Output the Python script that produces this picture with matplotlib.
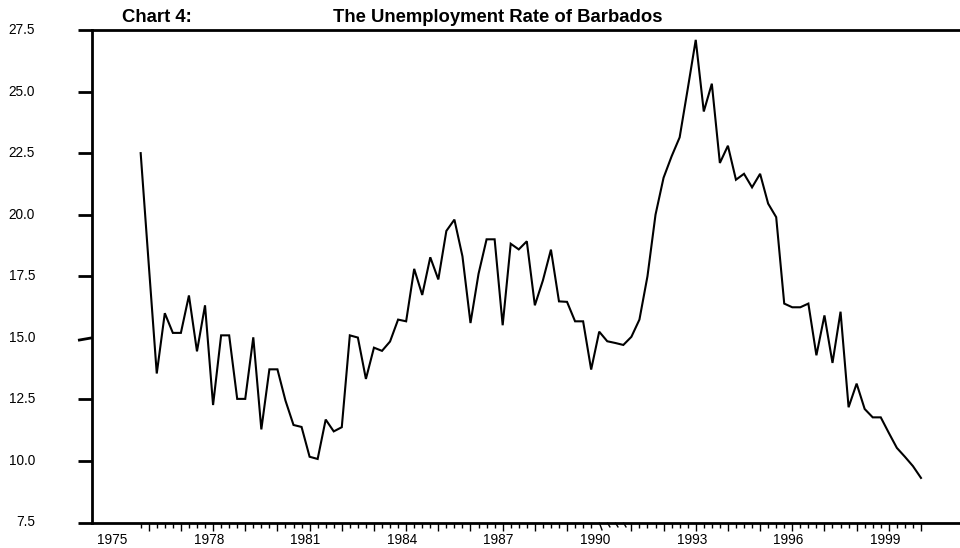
import matplotlib
matplotlib.use("Agg")
import matplotlib.pyplot as plt
from matplotlib.transforms import blended_transform_factory
import numpy as np

plt.rcParams['font.family'] = ['Liberation Sans', 'DejaVu Sans']

# Quarterly unemployment rate (%), first quarter of the series = index 0
rate = [
    22.5, 18.0, 13.55, 16.0, 15.2, 15.2, 16.72, 14.45, 16.32, 12.27,
    15.1, 15.1, 12.52, 12.52, 15.02, 11.28, 13.72, 13.72, 12.45, 11.46,
    11.38, 10.17, 10.08, 11.68, 11.2, 11.37, 15.1, 15.01, 13.33, 14.6,
    14.47, 14.85, 15.74, 15.67, 17.8, 16.74, 18.27, 17.37, 19.34, 19.8,
    18.31, 15.6, 17.6, 19.0, 19.0, 15.51, 18.82, 18.59, 18.92, 16.32,
    17.33, 18.58, 16.48, 16.46, 15.67, 15.67, 13.71, 15.25, 14.86, 14.79,
    14.71, 15.04, 15.74, 17.5, 20.0, 21.5, 22.37, 23.14, 25.1, 27.1,
    24.19, 25.32, 22.1, 22.8, 21.42, 21.66, 21.11, 21.66, 20.45, 19.9,
    16.39, 16.24, 16.24, 16.39, 14.29, 15.91, 13.98, 16.06, 12.18, 13.14,
    12.11, 11.77, 11.77, 11.14, 10.53, 10.17, 9.79, 9.31,
]
year_labels = ["1975", "1978", "1981", "1984", "1987", "1990", "1993", "1996", "1999"]
y_ticks = [7.5, 10.0, 12.5, 15.0, 17.5, 20.0, 22.5, 25.0, 27.5]

W, H = 960, 548
fig = plt.figure(figsize=(W / 100, H / 100), dpi=100)
ax_left, ax_right, ax_top, ax_bot = 92, 960, 30, 522.5
ax = fig.add_axes([ax_left / W, 1 - ax_bot / H, (ax_right - ax_left) / W, (ax_bot - ax_top) / H])

q = np.arange(len(rate))
ax.plot(q, rate, color='black', lw=1.5, solid_joinstyle='miter', clip_on=False)

ax.set_xlim(-6.05, 101.85)
ax.set_ylim(7.5, 27.5)

ax.spines['right'].set_visible(False)
for side in ('left', 'top', 'bottom'):
    ax.spines[side].set_linewidth(2.0)

# y axis: long outward ticks, labels drawn separately (right-aligned)
straight_y = [v for v in y_ticks if v != 15.0]
ax.set_yticks(straight_y)
ax.set_yticklabels([])
ax.tick_params(axis='y', direction='out', length=10, width=2.0)
ylab_tr = blended_transform_factory(fig.transFigure, ax.transData)
for v in y_ticks:
    ax.text(35 / W, v, f"{v:.1f}", transform=ylab_tr, ha='right', va='center',
            fontsize=9.8, color='black')
# the 15.0 tick mark is slightly tilted
yt_tr = blended_transform_factory(ax.transAxes, ax.transData)
axw = ax_right - ax_left
ax.plot([-14 / axw, 0], [15.0 - 0.1, 15.0], transform=yt_tr, color='black',
        lw=2.0, clip_on=False, solid_capstyle='butt')

# x axis: one tick per quarter, longer tick every fourth quarter
tilted = [57, 58, 59, 60]
major = [i for i in range(1, len(rate), 4) if i not in tilted]
minor = [i for i in range(len(rate)) if i % 4 != 1 and i not in tilted]
ax.set_xticks(major)
ax.set_xticks(minor, minor=True)
ax.set_xticklabels([])
ax.tick_params(axis='x', which='major', direction='out', length=6, width=1.0)
ax.tick_params(axis='x', which='minor', direction='out', length=3.6, width=1.0)

axh = ax_bot - ax_top
xt_tr = blended_transform_factory(ax.transData, ax.transAxes)
for i in tilted:
    depth = 8 if i % 4 == 1 else 5
    ax.plot([i, i + 3 / 8.045], [0, -depth / axh], transform=xt_tr, color='black',
            lw=1.0, clip_on=False, solid_capstyle='butt')

for k, lab in enumerate(year_labels):
    ax.text(12 * k - 3.5, -17.5 / axh, lab, transform=xt_tr, ha='center', va='center',
            fontsize=9.8, color='black')

# title row
fig.text(122 / W, 1 - 17 / H, "Chart 4:", fontsize=13.3, fontweight='bold',
         ha='left', va='center')
fig.text(333 / W, 1 - 17 / H, "The Unemployment Rate of Barbados", fontsize=13.3,
         fontweight='bold', ha='left', va='center')

fig.savefig("out.png", dpi=100)
